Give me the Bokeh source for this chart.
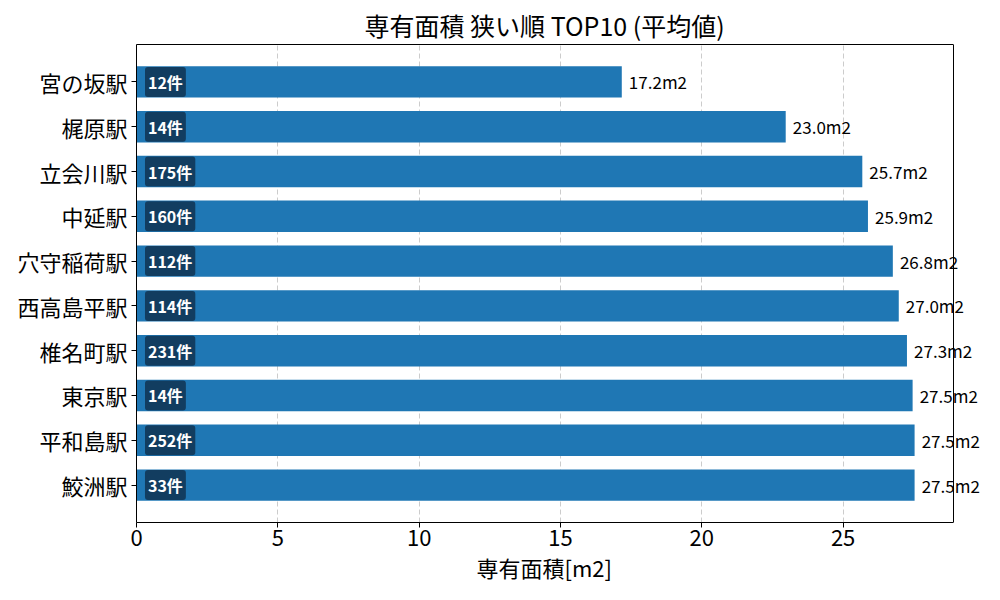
from bokeh.core.properties import value
from bokeh.embed import file_html
from bokeh.models import (ColumnDataSource, FixedTicker, Label, LinearAxis,
                          Range1d, Span, Title)
from bokeh.plotting import figure
from bokeh.resources import INLINE

FONT = "Noto Sans CJK JP"

stations = ["宮の坂駅", "梶原駅", "立会川駅", "中延駅", "穴守稲荷駅",
            "西高島平駅", "椎名町駅", "東京駅", "平和島駅", "鮫洲駅"]
areas = [17.17, 22.97, 25.68, 25.88, 26.76, 26.97, 27.26, 27.46, 27.53, 27.53]
counts = [12, 14, 175, 160, 112, 114, 231, 14, 252, 33]

n = len(stations)
ypos = [n - 1 - i for i in range(n)]  # first station on top
bar_h = 0.7
pad = 0.05 * (n - 1 + bar_h)
xmax = max(areas) * 1.05

# the frame is drawn wider than the visible box so the value labels
# can sit past the right edge without being clipped
W, H = 984, 584
LEFT, BOX_RIGHT = 136, 953
x_end = xmax * (W - LEFT) / (BOX_RIGHT - LEFT)

source = ColumnDataSource(data={
    "y": ypos,
    "area": areas,
    "count_label": [f"{c}件" for c in counts],
    "count_x": [0.3] * n,
})

p = figure(
    width=W,
    height=H,
    y_range=Range1d(-bar_h / 2 - pad, n - 1 + bar_h / 2 + pad),
    x_range=Range1d(0, x_end),
    output_backend="svg",
    toolbar_location=None,
    min_border_left=LEFT,
    min_border_right=0,
    min_border_top=44,
    min_border_bottom=62,
)

p.hbar(y="y", right="area", left=0, height=bar_h, source=source,
       color="#1f77b4", line_color=None)

p.text(x="count_x", y="y", text="count_label", source=source,
       text_font=value(FONT), text_font_size="16px", text_font_style="bold",
       text_color="white", text_baseline="middle", text_align="left",
       text_line_height=1.0, background_fill_color="#123d60",
       border_radius=3, padding=3)

for yv, a in zip(ypos, areas):
    p.add_layout(Label(x=a + 0.25, y=yv, text=f"{a:.1f}m2",
                       text_font=FONT, text_font_size="17px", text_color="black",
                       text_baseline="middle", text_align="left"))

# title, left aligned with an offset so it is centred over the box
p.title.text = "専有面積 狭い順 TOP10 (平均値)"
p.title.align = "left"
p.title.offset = 228
p.title.text_font = FONT
p.title.text_font_size = "25px"
p.title.text_font_style = "normal"
p.title.text_color = "black"
p.title.standoff = 4

xaxis = p.below[0]
xaxis.ticker = [0, 5, 10, 15, 20, 25]
xaxis.bounds = (0, xmax)
xaxis.major_label_standoff = 2

p.yaxis.ticker = FixedTicker(ticks=ypos)
p.yaxis.major_label_overrides = {yv: s for yv, s in zip(ypos, stations)}
p.yaxis.major_label_standoff = 4

for ax in (xaxis, p.yaxis[0]):
    ax.major_label_text_font = FONT
    ax.major_label_text_font_size = "22px"
    ax.major_label_text_color = "black"
    ax.axis_line_color = "black"
    ax.major_tick_line_color = "black"
    ax.major_tick_in = 0
    ax.major_tick_out = 5
    ax.minor_tick_line_color = None

p.add_layout(Title(text="専有面積[m2]", align="left", offset=340,
                   text_font=FONT, text_font_size="22px",
                   text_font_style="normal", text_color="black", standoff=0),
             "below")

# box: top line as a bare axis, right line as a span
top = LinearAxis(ticker=[], bounds=(0, xmax), axis_line_color="black",
                 major_label_text_font_size="0px", major_tick_line_color=None,
                 minor_tick_line_color=None)
p.add_layout(top, "above")
p.add_layout(Span(location=xmax, dimension="height", line_color="black",
                  line_width=1))
p.outline_line_color = None

p.ygrid.grid_line_color = None
p.xgrid.grid_line_color = "#cccccc"
p.xgrid.grid_line_dash = "5 3"

open("out.html", "w").write(file_html(p, INLINE))
